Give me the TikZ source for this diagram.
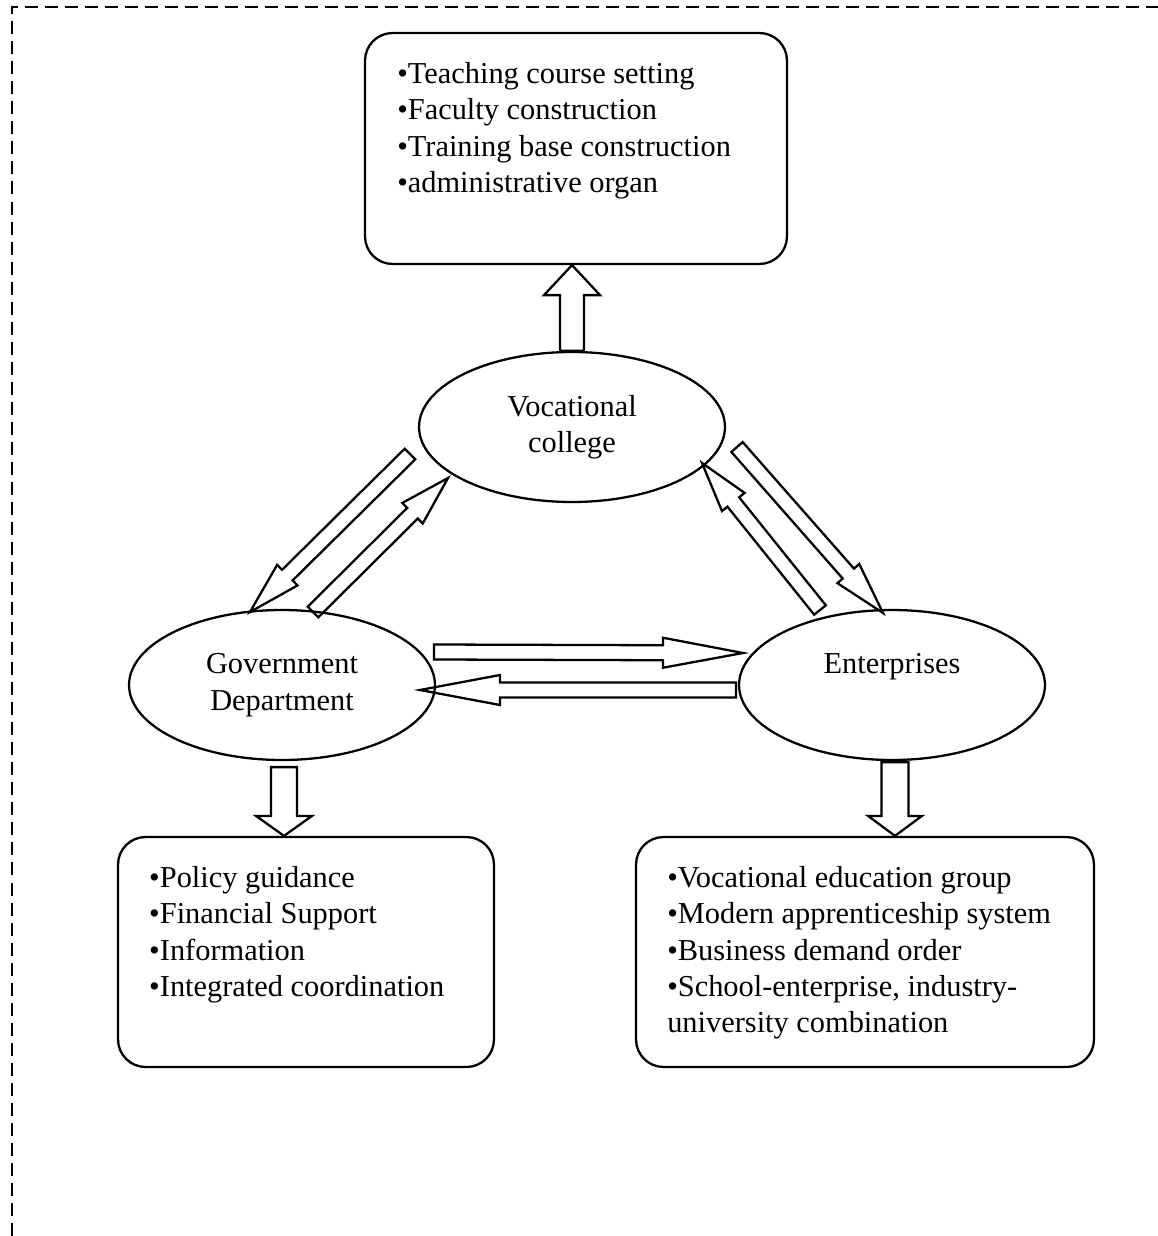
\documentclass[tikz,border=0pt]{standalone}
\usepackage{fontspec}
\setmainfont{Liberation Serif}
\usetikzlibrary{positioning,calc,shapes.geometric}

% hollow block arrow: tail, tip, half shaft, half head, head length
\newcommand{\fatarrow}[5]{%
  \coordinate (fa-h) at ($(#2)!#5!(#1)$);
  \draw[arrowline] ($(#1)!#3!90:(#2)$) -- ($(fa-h)!#3!-90:(#1)$) -- ($(fa-h)!#4!-90:(#1)$) -- (#2)
    -- ($(fa-h)!#4!90:(#1)$) -- ($(fa-h)!#3!90:(#1)$) -- ($(#1)!#3!-90:(#2)$) -- cycle;}

\begin{document}
\begin{tikzpicture}[x=0.02cm,y=-0.02cm,
				every node/.style={font=\fontsize{17.3}{20.7}\selectfont},
				party/.style={ellipse,draw,line width=1.3pt,minimum width=6.12cm,minimum height=3cm,align=center,inner sep=0pt},
				panel/.style={draw,rectangle,rounded corners=0.55cm,line width=1.3pt},
				items/.style={align=left,inner sep=0pt,anchor=north west},
				arrowline/.style={line width=1.3pt,line join=miter}]
				\useasboundingbox (0,0) rectangle (1158,1236);
				\draw[line width=1.5pt,dash pattern=on 7.4pt off 4pt] (12,1236) -- (12,7) -- (1158,7);
				
				\node[party] (VC) at (572,427) {Vocational\\college};
				\node[party] (GD) at (282,685) {Government\\Department};
				\node[party] (EN) at (892,685) {Enterprises\\[4pt] \mbox{}};
				
				\node[panel,minimum width=8.44cm,minimum height=4.62cm] (TB) at (576,148.5) {};
				\node[panel,minimum width=7.52cm,minimum height=4.6cm]  (GB) at (306,952) {};
				\node[panel,minimum width=9.16cm,minimum height=4.6cm]  (EB) at (865,952) {};
				\node[items] (TBT) at ([shift={(33,30)}]TB.north west) {•Teaching course setting\\•Faculty construction\\•Training base construction\\•administrative organ};
				\node[items] (GBT) at ([shift={(32,30)}]GB.north west) {•Policy guidance\\•Financial Support\\•Information\\•Integrated coordination};
				\node[items] (EBT) at ([shift={(32,30)}]EB.north west) {•Vocational education group\\•Modern apprenticeship system\\•Business demand order\\•School-enterprise, industry-\\university combination};
				
				% ends of the block arrows
				\coordinate (VT) at (VC.north |- TB.south);
				\coordinate (GS) at ([shift={(2,6)}]GD.south);
				\coordinate (GT) at (GS |- GB.north);
				\coordinate (ES) at ([shift={(3,1)}]EN.south);
				\coordinate (ET) at (ES |- EB.north);
				\coordinate (GE1) at ([shift={(152,-33)}]GD.center);
				\coordinate (GE2) at ([shift={(-149,-32)}]EN.center);
				\coordinate (EG1) at ([shift={(-156,5)}]EN.center);
				\coordinate (EG2) at ([shift={(138,5)}]GD.center);
				\coordinate (VG1) at ([shift={(-162,27)}]VC.center);
				\coordinate (VG2) at ([shift={(-32,-73)}]GD.center);
				\coordinate (GV1) at ([shift={(31,-73)}]GD.center);
				\coordinate (GV2) at ([shift={(-124,51)}]VC.center);
				\coordinate (EV1) at ([shift={(-72,-75)}]EN.center);
				\coordinate (EV2) at ([shift={(130,36)}]VC.center);
				\coordinate (VE1) at ([shift={(165,20)}]VC.center);
				\coordinate (VE2) at ([shift={(-9,-72)}]EN.center);
				
				\fatarrow{VC.north}{VT}{0.24cm}{0.56cm}{0.6cm}
				\fatarrow{GS}{GT}{0.26cm}{0.56cm}{0.4cm}
				\fatarrow{ES}{ET}{0.27cm}{0.54cm}{0.4cm}
				\fatarrow{GE1}{GE2}{0.15cm}{0.3cm}{1.6cm}
				\fatarrow{EG1}{EG2}{0.15cm}{0.3cm}{1.6cm}
				\fatarrow{VG1}{VG2}{0.15cm}{0.29cm}{1.05cm}
				\fatarrow{GV1}{GV2}{0.15cm}{0.29cm}{1.0cm}
				\fatarrow{EV1}{EV2}{0.15cm}{0.29cm}{1.0cm}
				\fatarrow{VE1}{VE2}{0.15cm}{0.29cm}{1.05cm}
			\end{tikzpicture}
\end{document}
